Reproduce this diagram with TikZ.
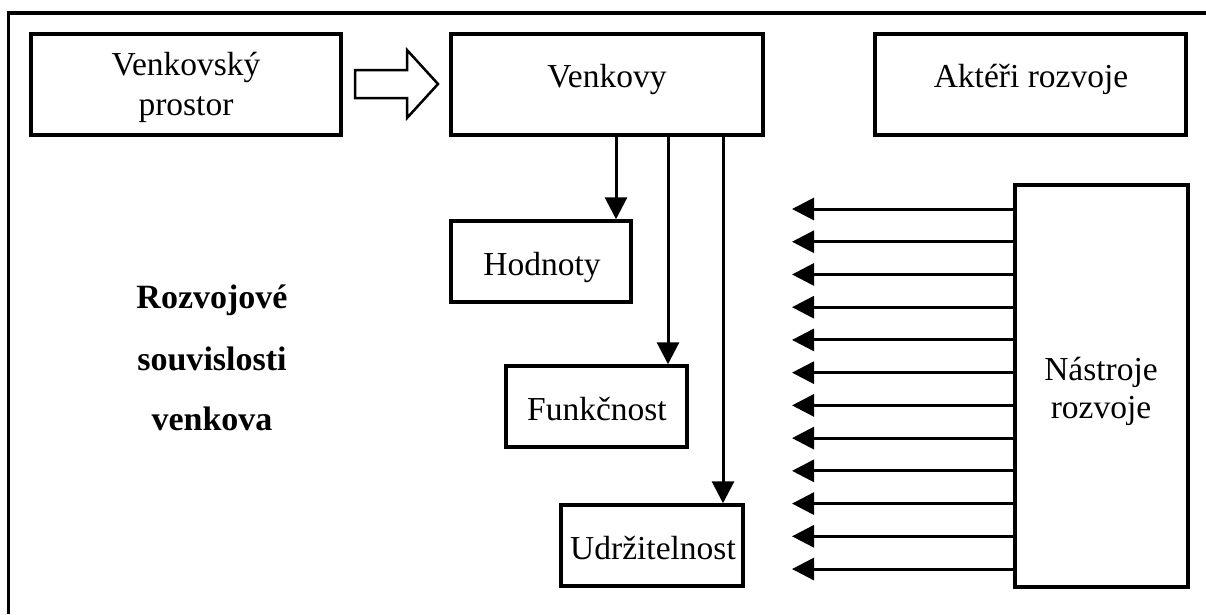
\documentclass[tikz,border=0pt]{standalone}
\usepackage{fontspec}
\setmainfont{Liberation Serif}
\usetikzlibrary{arrows.meta}
\tikzset{
  box/.style={draw, line width=3.5pt, inner sep=0pt},
  txt/.style={inner sep=0pt, anchor=base, font=\fontsize{33.5}{40}\selectfont},
  btxt/.style={inner sep=0pt, anchor=base, font=\fontsize{34}{40}\selectfont\bfseries},
  conn/.style={line width=3pt, -{Triangle[length=22pt,width=22pt]}},
  frame/.style={line width=3.5pt},
  hollow/.style={line width=2.5pt, line join=miter}
}
\begin{document}
\begin{tikzpicture}[x=1pt,y=-1pt]
\useasboundingbox (0,0) rectangle (1206,614);
% outer frame (only top and left visible)
\draw[frame] (8.5,614) -- (8.5,13) -- (1206,13);
% boxes
\node[box, minimum width=310pt, minimum height=101pt] (vp) at (186,84.5) {};
\node[box, minimum width=312pt, minimum height=101pt] (ve) at (607,84.5) {};
\node[box, minimum width=311pt, minimum height=101pt] (ak) at (1030.5,84.5) {};
\node[box, minimum width=180pt, minimum height=81pt] (ho) at (541,261.5) {};
\node[box, minimum width=181pt, minimum height=81pt] (fu) at (596.5,406.5) {};
\node[box, minimum width=182pt, minimum height=81pt] (ud) at (652,545.5) {};
\node[box, minimum width=173pt, minimum height=402pt] (na) at (1101.5,386) {};
% texts
\node[txt] (tvp1) at (186,75) {Venkovský};
\node[txt] (tvp2) at (186,115) {prostor};
\node[txt] (tve) at (607,87) {Venkovy};
\node[txt] (tak) at (1031,87) {Aktéři rozvoje};
\node[txt] (tho) at (542,275) {Hodnoty};
\node[txt] (tfu) at (597,420) {Funkčnost};
\node[txt] (tud) at (653,559) {Udržitelnost};
\node[txt] (tna1) at (1101,380) {Nástroje};
\node[txt] (tna2) at (1101,418) {rozvoje};
\node[btxt] (r1) at (212,308) {Rozvojové};
\node[btxt] (r2) at (212,370) {souvislosti};
\node[btxt] (r3) at (212,430) {venkova};
% hollow arrow
\draw[hollow] (355,70) -- (407,70) -- (407,50) -- (438,84) -- (407,118) -- (407,98) -- (355,98) -- cycle;
% vertical connectors
\coordinate (c1) at (616,0);
\coordinate (c2) at (668,0);
\coordinate (c3) at (723,0);
\draw[conn] (ve.south -| c1) -- (ho.north -| c1);
\draw[conn] (ve.south -| c2) -- (fu.north -| c2);
\draw[conn] (ve.south -| c3) -- (ud.north -| c3);
% horizontal connectors
\foreach \i in {0,...,11} {
  \coordinate (t\i) at (792,{209+\i*32.73});
  \draw[conn] (na.west |- t\i) -- (t\i);
}
\end{tikzpicture}
\end{document}
